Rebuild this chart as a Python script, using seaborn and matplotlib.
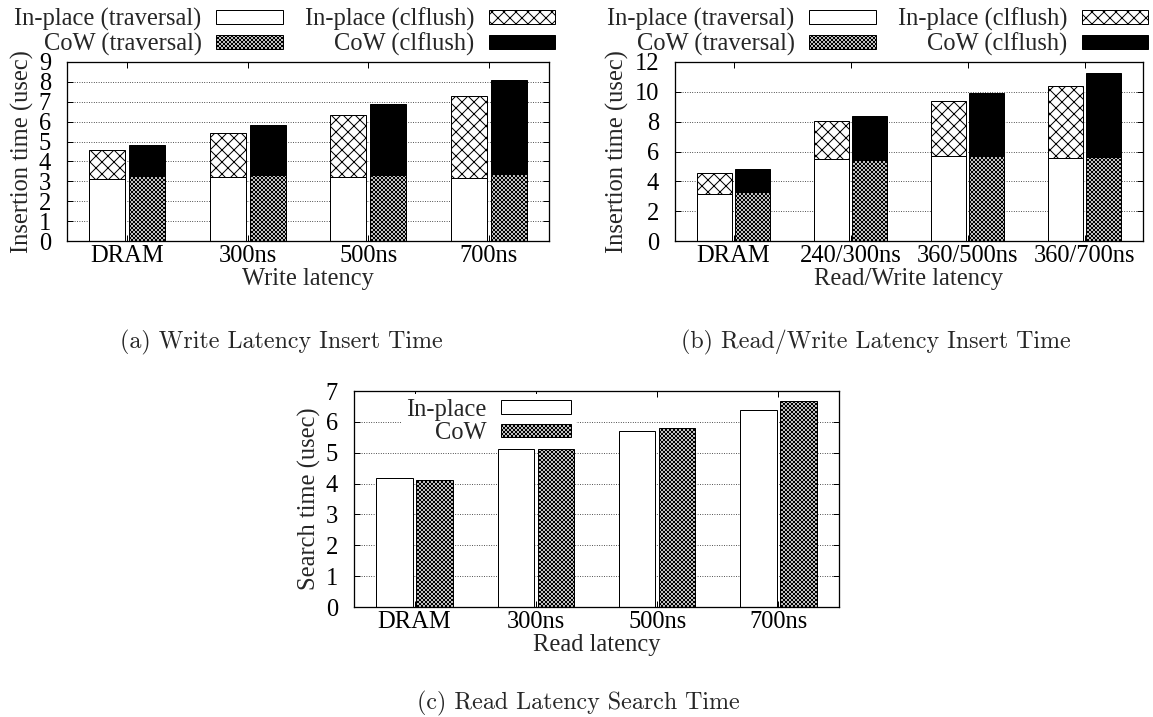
import numpy as np
import pandas as pd
import matplotlib
matplotlib.use("Agg")
import matplotlib.pyplot as plt
from matplotlib.patches import Patch
import seaborn as sns

# ---------------- data ----------------
cats_a = ["DRAM", "300ns", "500ns", "700ns"]
ip_trav_a = [3.14, 3.20, 3.20, 3.18]
ip_total_a = [4.57, 5.45, 6.32, 7.31]
cow_trav_a = [3.29, 3.32, 3.33, 3.35]
cow_total_a = [4.82, 5.84, 6.87, 8.08]

cats_b = ["DRAM", "240/300ns", "360/500ns", "360/700ns"]
ip_trav_b = [3.15, 5.47, 5.68, 5.59]
ip_total_b = [4.56, 8.04, 9.36, 10.41]
cow_trav_b = [3.31, 5.45, 5.68, 5.63]
cow_total_b = [4.83, 8.36, 9.90, 11.26]

cats_c = ["DRAM", "300ns", "500ns", "700ns"]
ip_c = [4.19, 5.11, 5.71, 6.39]
cow_c = [4.10, 5.11, 5.79, 6.68]

labels_stack = ["In-place (traversal)", "CoW (traversal)", "In-place (clflush)", "CoW (clflush)"]
labels_search = ["In-place", "CoW"]
captions = ["(a) Write Latency Insert Time", "(b) Read/Write Latency Insert Time",
            "(c) Read Latency Search Time"]

# ---------------- style ----------------
sns.set_style("white")
plt.rcParams['font.family'] = ['Liberation Serif', 'DejaVu Serif']
plt.rcParams['hatch.linewidth'] = 1.0
plt.rcParams['hatch.color'] = 'black'
FS = 24.5

W, H = 1153, 717
DPI = 72
fig = plt.figure(figsize=(W / DPI, H / DPI), dpi=DPI)


def axes_px(l, t, r, b):
    return fig.add_axes([l / W, 1 - b / H, (r - l) / W, (b - t) / H])


ax_a = axes_px(67, 62, 549, 241)
ax_b = axes_px(675, 62, 1143, 241)
ax_c = axes_px(354, 391, 839, 607)


def long_df(cats, ip, cow):
    n = len(cats)
    return pd.DataFrame({"cat": list(cats) * 2,
                         "series": ["In-place"] * n + ["CoW"] * n,
                         "value": list(ip) + list(cow)})


def bars(ax, df, cats):
    sns.barplot(data=df, x="cat", y="value", hue="series", order=cats,
                hue_order=["In-place", "CoW"], width=0.66, gap=0.09,
                ax=ax, legend=False, errorbar=None)


ST_IP_TRAV = dict(fc="white", hatch=None)
ST_COW_TRAV = dict(fc="white", hatch="xxxxxx")
ST_IP_CL = dict(fc="white", hatch="xx")
ST_COW_CL = dict(fc="black", hatch=None)


def apply_styles(ax, styles):
    for cont, st in zip(ax.containers, styles):
        for p in cont:
            p.set_facecolor(st["fc"])
            p.set_edgecolor("black")
            p.set_hatch(st["hatch"])
            p.set_linewidth(1.0)


def style_axes(ax, cats, ymax, ystep, xlabel, ylabel):
    ax.set_xlim(-0.5, len(cats) - 0.5)
    ax.set_ylim(0, ymax)
    ax.set_yticks(np.arange(0, ymax + 0.001, ystep))
    ax.set_xticks(range(len(cats)))
    ax.set_xticklabels(cats)
    ax.yaxis.grid(True, linestyle=(0, (1, 2)), color="black", linewidth=0.8)
    ax.xaxis.grid(False)
    ax.set_axisbelow(True)
    ax.tick_params(direction="in", top=True, right=True, bottom=True, left=True,
                   length=6, width=1, labelsize=FS, colors="black")
    ax.tick_params(axis="x", pad=4)
    ax.tick_params(axis="y", pad=16)
    for s in ax.spines.values():
        s.set_visible(True)
        s.set_linewidth(1.3)
        s.set_color("black")
    ax.set_xlabel(xlabel, fontsize=FS, labelpad=1)
    ax.set_ylabel(ylabel, fontsize=FS, labelpad=5)


# ---------------- panel (a) ----------------
bars(ax_a, long_df(cats_a, ip_total_a, cow_total_a), cats_a)
bars(ax_a, long_df(cats_a, ip_trav_a, cow_trav_a), cats_a)
apply_styles(ax_a, [ST_IP_CL, ST_COW_CL, ST_IP_TRAV, ST_COW_TRAV])
style_axes(ax_a, cats_a, 9, 1, "Write latency", "Insertion time (usec)")

# ---------------- panel (b) ----------------
bars(ax_b, long_df(cats_b, ip_total_b, cow_total_b), cats_b)
bars(ax_b, long_df(cats_b, ip_trav_b, cow_trav_b), cats_b)
apply_styles(ax_b, [ST_IP_CL, ST_COW_CL, ST_IP_TRAV, ST_COW_TRAV])
style_axes(ax_b, cats_b, 12, 2, "Read/Write latency", "Insertion time (usec)")

# ---------------- panel (c) ----------------
bars(ax_c, long_df(cats_c, ip_c, cow_c), cats_c)
apply_styles(ax_c, [ST_IP_TRAV, ST_COW_TRAV])
style_axes(ax_c, cats_c, 7, 1, "Read latency", "Search time (usec)")


# ---------------- legends ----------------
def handle(st):
    return Patch(facecolor=st["fc"], edgecolor="black", hatch=st["hatch"], linewidth=1.0)


stack_handles = [handle(ST_IP_TRAV), handle(ST_COW_TRAV), handle(ST_IP_CL), handle(ST_COW_CL)]
leg_kw = dict(ncol=2, loc="upper right", frameon=False, markerfirst=False, fontsize=FS,
              handlelength=2.7, handleheight=0.49, handletextpad=0.6, columnspacing=0.9,
              labelspacing=0.05, borderpad=0, borderaxespad=0)
fig.legend(stack_handles, labels_stack, bbox_to_anchor=(555 / W, 1 - 8 / H), **leg_kw)
fig.legend(stack_handles, labels_stack, bbox_to_anchor=(1148 / W, 1 - 8 / H), **leg_kw)

leg_c = fig.legend([handle(ST_IP_TRAV), handle(ST_COW_TRAV)], labels_search, ncol=1,
                   loc="upper right", bbox_to_anchor=(576 / W, 1 - 394 / H),
                   frameon=True, markerfirst=False, fontsize=FS, handlelength=2.85,
                   handleheight=0.49, handletextpad=0.6, labelspacing=0.05,
                   borderpad=0.2, borderaxespad=0, fancybox=False)
leg_c.get_frame().set_facecolor("white")
leg_c.get_frame().set_edgecolor("none")
leg_c.get_frame().set_alpha(1.0)

# ---------------- captions ----------------
cap_kw = dict(ha="center", va="center", fontsize=24, family="cmr10")
fig.text(281 / W, 1 - 342 / H, captions[0], **cap_kw)
fig.text(876 / W, 1 - 342 / H, captions[1], **cap_kw)
fig.text(578 / W, 1 - 703 / H, captions[2], **cap_kw)

fig.savefig("out.png", dpi=DPI, facecolor="white")
